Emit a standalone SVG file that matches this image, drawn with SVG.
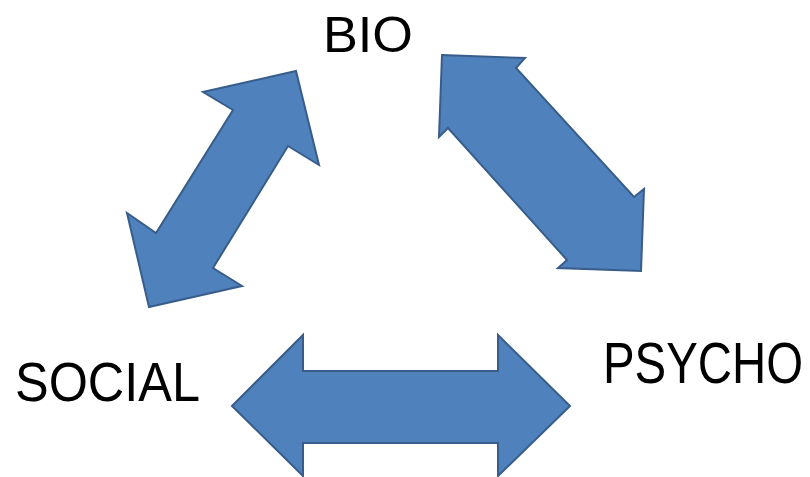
<svg xmlns="http://www.w3.org/2000/svg" width="810" height="477" viewBox="0 0 810 477">
  <style>
    .arrow { fill: #4F81BD; stroke: #385D8A; stroke-width: 2; stroke-linejoin: miter; }
    .label { font-family: "Liberation Sans", Arial, sans-serif; fill: #000000; }
  </style>
  <rect width="810" height="477" fill="#FFFFFF"/>

  <!-- double-headed block arrows between the three labels -->
  <g id="connectors">
    <polygon id="arrow-bio-social" class="arrow"
      points="296,71 319,165 288,146 213,268 242,286 149,307 127,213 156,233 233,110 203,92"/>
    <polygon id="arrow-bio-psycho" class="arrow"
      points="442,55 525,58 516,68 634,197 644,189 641,271 558,268 567,260 448,128 439,137"/>
    <polygon id="arrow-social-psycho" class="arrow"
      points="232,406 303,335 303,371 498,371 498,335 570,406 498,476 498,443 303,443 303,476"/>
  </g>

  <g id="node-bio">
    <text class="label" x="323" y="52" font-size="50" textLength="90" lengthAdjust="spacingAndGlyphs">BIO</text>
  </g>
  <g id="node-social">
    <text class="label" x="15" y="401" font-size="56" textLength="185" lengthAdjust="spacingAndGlyphs">SOCIAL</text>
  </g>
  <g id="node-psycho">
    <text class="label" x="603" y="383" font-size="57" textLength="200" lengthAdjust="spacingAndGlyphs">PSYCHO</text>
  </g>
</svg>
